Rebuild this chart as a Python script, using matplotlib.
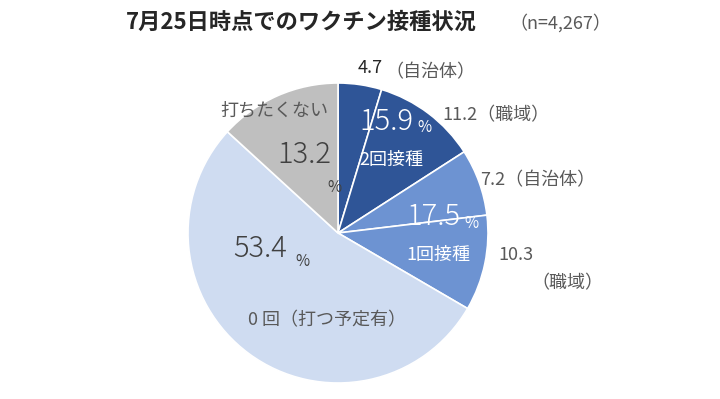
import matplotlib
matplotlib.use("Agg")
import matplotlib.pyplot as plt

plt.rcParams['font.family'] = ['Noto Sans CJK JP', 'DejaVu Sans']

values = [4.7, 11.2, 7.2, 10.3, 53.4, 13.2]
colors = ['#2F5597', '#2F5597', '#6D93D2', '#6D93D2', '#CFDCF1', '#BFBFBF']
title = '7月25日時点でのワクチン接種状況'
subtitle = '（n=4,267）'

W, H = 720, 399
fig = plt.figure(figsize=(W / 100, H / 100), dpi=100)
ax = fig.add_axes([0, 0, 1, 1])

cx, cy, r = 338, H - 233, 150
ax.pie(values, colors=colors, startangle=90, counterclock=False,
       center=(cx, cy), radius=r, frame=True,
       wedgeprops=dict(edgecolor='white', linewidth=1.2))
ax.set_xlim(0, W)
ax.set_ylim(0, H)
ax.set_aspect('equal')
ax.axis('off')

def t(x, y, s, size, color, weight='normal'):
    ax.text(x, H - y, s, fontsize=size, color=color, ha='center', va='center',
            fontweight=weight)

gray = '#595959'
dark = '#404040'
LBL = 13
BIG = 21
PCT = 11

fig.text(301 / W, 1 - 22 / H, title, fontsize=16, fontweight='bold',
         color='#262626', ha='center', va='center')
fig.text(560 / W, 1 - 23 / H, subtitle, fontsize=13, color=gray,
         ha='center', va='center')

t(370, 68, '4.7', LBL, '#262626')
t(430, 72, '（自治体）', LBL, gray)
t(496, 115, '11.2（職域）', LBL, gray)
t(386, 122, '15.9', BIG, 'white', 'light')
t(424, 128, '%', PCT, 'white')
t(391, 160, '2回接種', LBL, 'white')
t(538, 180, '7.2（自治体）', LBL, gray)
t(433, 217, '17.5', BIG, 'white', 'light')
t(471, 223, '%', PCT, 'white')
t(438, 255, '1回接種', LBL, 'white')
t(516, 255, '10.3', LBL, gray)
t(567, 283, '（職域）', LBL, gray)
t(274, 110, '打ちたくない', LBL, gray)
t(304, 155, '13.2', BIG, dark, 'light')
t(334, 187, '%', PCT, dark)
t(260, 249, '53.4', BIG, dark, 'light')
t(302, 261, '%', PCT, dark)
t(327, 320, '0 回（打つ予定有）', LBL, gray)

fig.savefig('out.png', dpi=100)
